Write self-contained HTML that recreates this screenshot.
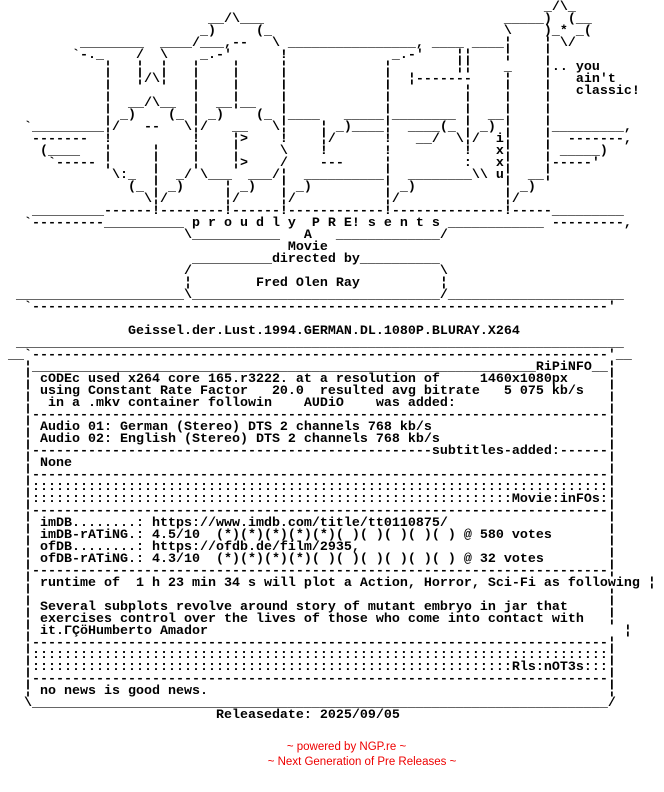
<!DOCTYPE html>
<html><head><meta charset="utf-8"><style>
html,body{margin:0;padding:0;background:#fff;width:664px;height:792px;overflow:hidden;}
pre{position:absolute;left:0;top:2px;margin:0;font-family:"Liberation Mono",monospace;font-size:13.33px;line-height:12px;font-weight:bold;color:#000;white-space:pre;}
.r{position:absolute;font-family:"Liberation Sans",sans-serif;font-size:11.5px;color:#e00;white-space:nowrap;text-align:center;}
</style></head><body>
<pre>
                                                                    _/\_
                          __/\___                              _____)  (__
                         _)     (_                             \    )_* _(
          ________  ____/___,--   \ ________________, ____ ____¦    ¦ \/
         `-._    /  \    _.-'      !             _.-'    ¦¦    ¦    ¦
             ¦   ¦  ¦   ¦    ¦     ¦            ¦        ¦¦    _    ¦.. you
             ¦   ¦/\¦   ¦    ¦     ¦            ¦  ¦-------    ¦    ¦   ain't
             ¦          ¦    ¦     ¦            ¦         ¦    ¦    ¦   classic!
             ¦  __/\__  ¦  __¦__   ¦            ¦         ¦    ¦    ¦
             ¦ _)    (_ ¦ _)    (_ ¦____   _____¦________ ¦  __¦    ¦
   `_________¦/   --   \¦/   __   \¦    ¦ _)____¦  ____(_ ¦ _) ¦    ¦_________,
    -------  !          !    ¦>    !    ¦/      !   __/  \¦/  i¦    ¦  -------,
     (____   ¦     ¦    ¦    ¦     \    !       !         !   x¦    ¦ _____)
      `----- ¦     ¦    ¦    ¦>    /    ---     ¦         :   x¦    ¦-----'
              \:_  ¦  _/ \___  ___/¦  __________¦  ________\\ u¦  __¦
                (_ ¦ _)     ¦ _)   ¦ _)         ¦ _)           ¦ _)
                  \¦/       ¦/     ¦/           ¦/             ¦/
    _________------!--------!------!------------!--------------!-----_________
   `---------__________ p r o u d l y  P R E! s e n t s ____________ ---------,
                       \___________   A   _____________/
                                    Movie
                        __________directed by__________
                       /                               \
                       ¦        Fred Olen Ray          ¦
  _____________________\_______________________________/______________________
   `------------------------------------------------------------------------'

                Geissel.der.Lust.1994.GERMAN.DL.1080P.BLURAY.X264
  ____________________________________________________________________________
 __`------------------------------------------------------------------------'__
   ¦_______________________________________________________________RiPiNFO__¦
   ¦ cODEc used x264 core 165.r3222. at a resolution of     1460x1080px     ¦
   ¦ using Constant Rate Factor   20.0  resulted avg bitrate   5 075 kb/s   ¦
   ¦  in a .mkv container followin    AUDiO    was added:                   ¦
   ¦------------------------------------------------------------------------¦
   ¦ Audio 01: German (Stereo) DTS 2 channels 768 kb/s                      ¦
   ¦ Audio 02: English (Stereo) DTS 2 channels 768 kb/s                     ¦
   ¦--------------------------------------------------subtitles-added:------¦
   ¦ None                                                                   ¦
   ¦------------------------------------------------------------------------¦
   ¦::::::::::::::::::::::::::::::::::::::::::::::::::::::::::::::::::::::::¦
   ¦::::::::::::::::::::::::::::::::::::::::::::::::::::::::::::Movie:inFOs:¦
   ¦------------------------------------------------------------------------¦
   ¦ imDB........: https://www.imdb.com/title/tt0110875/                    ¦
   ¦ imDB-rATiNG.: 4.5/10  (*)(*)(*)(*)(*)( )( )( )( )( ) @ 580 votes       ¦
   ¦ ofDB........: https://ofdb.de/film/2935,                               ¦
   ¦ ofDB-rATiNG.: 4.3/10  (*)(*)(*)(*)( )( )( )( )( )( ) @ 32 votes        ¦
   ¦------------------------------------------------------------------------¦
   ¦ runtime of  1 h 23 min 34 s will plot a Action, Horror, Sci-Fi as following ¦
   ¦                                                                        ¦
   ¦ Several subplots revolve around story of mutant embryo in jar that     ¦
   ¦ exercises control over the lives of those who come into contact with   ¦
   ¦ it.ΓÇöHumberto Amador                                                    ¦
   ¦------------------------------------------------------------------------¦
   ¦::::::::::::::::::::::::::::::::::::::::::::::::::::::::::::::::::::::::¦
   ¦::::::::::::::::::::::::::::::::::::::::::::::::::::::::::::Rls:nOT3s:::¦
   ¦------------------------------------------------------------------------¦
   ¦ no news is good news.                                                  ¦
   \________________________________________________________________________/
                           Releasedate: 2025/09/05
</pre>
<div class="r" style="left:273px;top:741px;width:147px;">~ powered by NGP.re ~</div>
<div class="r" style="left:246px;top:756px;width:232px;">~ Next Generation of Pre Releases ~</div>
</body></html>
